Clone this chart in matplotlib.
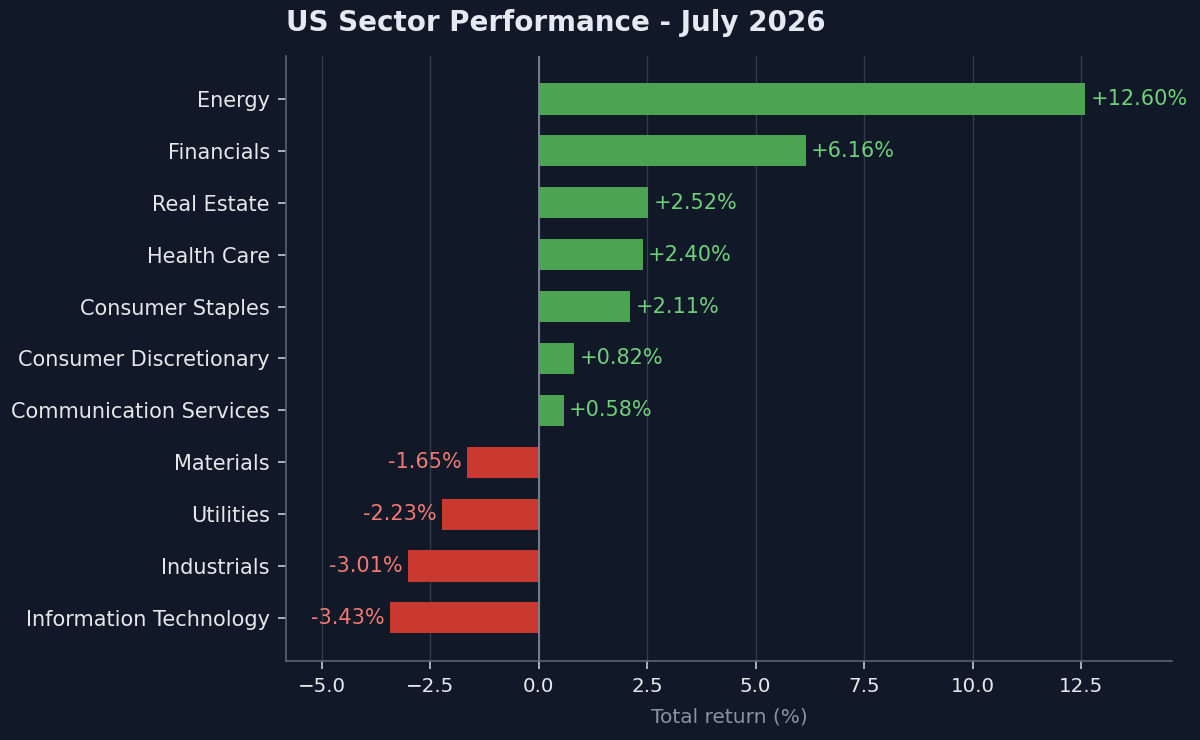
import matplotlib
matplotlib.use("Agg")
import matplotlib.pyplot as plt

sectors = ["Energy", "Financials", "Real Estate", "Health Care", "Consumer Staples",
           "Consumer Discretionary", "Communication Services", "Materials", "Utilities",
           "Industrials", "Information Technology"]
returns = [12.60, 6.16, 2.52, 2.40, 2.11, 0.82, 0.58, -1.65, -2.23, -3.01, -3.43]

BG = "#111827"
GREEN = "#4ca352"
RED = "#c9392f"
GREEN_TXT = "#6fd07a"
RED_TXT = "#f07a72"

fig = plt.figure(figsize=(12, 7.4), dpi=100, facecolor=BG)
ax = fig.add_axes([0.2383, 0.1068, 0.7384, 0.8176])
ax.set_facecolor(BG)

ypos = list(range(len(sectors)))
colors = [GREEN if v >= 0 else RED for v in returns]
ax.barh(ypos, returns, height=0.6, color=colors, zorder=3)
ax.set_yticks(ypos)
ax.set_yticklabels(sectors)
ax.invert_yaxis()

for y, v in zip(ypos, returns):
    if v >= 0:
        ax.text(v + 0.12, y, f"+{v:.2f}%", va="center", ha="left", color=GREEN_TXT, fontsize=15, zorder=4)
    else:
        ax.text(v - 0.12, y, f"{v:.2f}%", va="center", ha="right", color=RED_TXT, fontsize=15, zorder=4)

ax.axvline(0, color="#7b8494", lw=1.3, zorder=4)
ax.set_xlim(-5.83, 14.6)
ax.grid(axis="x", color="#343c4b", lw=1, zorder=0)
ax.grid(axis="y", visible=False)

for s in ["top", "right"]:
    ax.spines[s].set_visible(False)
for s in ["left", "bottom"]:
    ax.spines[s].set_color("#5b6373")
    ax.spines[s].set_linewidth(1.2)

ax.tick_params(labelcolor="#e5e7eb", color="#c8ccd4", length=5.5, width=1.2, pad=6)
ax.tick_params(axis="y", labelsize=15)
ax.tick_params(axis="x", labelsize=14.3)
ax.set_xlabel("Total return (%)", color="#8b93a3", fontsize=14.5, labelpad=8)
ax.set_title("US Sector Performance - July 2026", loc="left", color="#e5e9f2",
             fontsize=20, fontweight="bold", pad=18)

fig.savefig("out.png", dpi=100, facecolor=BG)
